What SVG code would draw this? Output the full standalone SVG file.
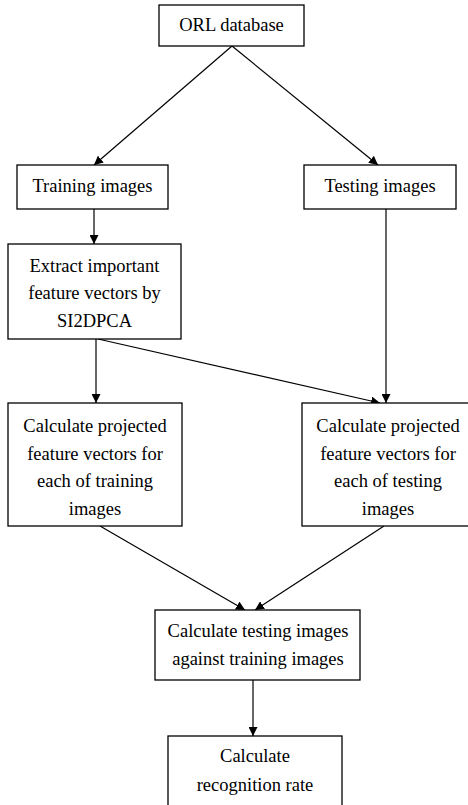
<svg xmlns="http://www.w3.org/2000/svg" width="468" height="805" viewBox="0 0 468 805">
  <style>
    .box { fill: #ffffff; stroke: #000000; stroke-width: 1.3; }
    .lbl { font-family: "Liberation Serif", "Times New Roman", serif; font-size: 18.5px; fill: #000000; text-anchor: middle; }
    .edge { stroke: #000000; stroke-width: 1.2; fill: none; marker-end: url(#arrow); }
  </style>
  <defs>
    <marker id="arrow" viewBox="0 0 10 10" refX="10" refY="5" markerWidth="9" markerHeight="9" markerUnits="userSpaceOnUse" orient="auto">
      <path d="M0,0 L10,5 L0,10 z" fill="#000000"/>
    </marker>
  </defs>
  <rect width="468" height="805" fill="#ffffff"/>

  <g id="connectors">
    <line class="edge" x1="232" y1="46" x2="94" y2="165"/>
    <line class="edge" x1="232" y1="46" x2="378" y2="165"/>
    <line class="edge" x1="94" y1="209" x2="94" y2="244"/>
    <line class="edge" x1="96" y1="339" x2="96" y2="403"/>
    <line class="edge" x1="98" y1="339" x2="380" y2="403"/>
    <line class="edge" x1="386" y1="209" x2="386" y2="403"/>
    <line class="edge" x1="100" y1="526" x2="245" y2="610"/>
    <line class="edge" x1="384" y1="526" x2="255" y2="610"/>
    <line class="edge" x1="253" y1="680" x2="253" y2="736"/>
  </g>

  <g id="orl-database">
    <rect class="box" x="159" y="5" width="145" height="41"/>
    <text class="lbl" x="231.5" y="31">ORL database</text>
  </g>

  <g id="training-images">
    <rect class="box" x="17" y="165" width="151" height="44"/>
    <text class="lbl" x="92.5" y="192">Training images</text>
  </g>

  <g id="testing-images">
    <rect class="box" x="304" y="165" width="152" height="44"/>
    <text class="lbl" x="380" y="192">Testing images</text>
  </g>

  <g id="extract-features">
    <rect class="box" x="8" y="244" width="173" height="95"/>
    <text class="lbl" x="94.5" y="272">Extract important</text>
    <text class="lbl" x="94.5" y="299">feature vectors by</text>
    <text class="lbl" x="94.5" y="327">SI2DPCA</text>
  </g>

  <g id="project-training">
    <rect class="box" x="8" y="403" width="174" height="123"/>
    <text class="lbl" x="95" y="432">Calculate projected</text>
    <text class="lbl" x="95" y="459.5">feature vectors for</text>
    <text class="lbl" x="95" y="487">each of training</text>
    <text class="lbl" x="95" y="515">images</text>
  </g>

  <g id="project-testing">
    <rect class="box" x="302" y="403" width="172" height="123"/>
    <text class="lbl" x="388" y="432">Calculate projected</text>
    <text class="lbl" x="388" y="459.5">feature vectors for</text>
    <text class="lbl" x="388" y="487">each of testing</text>
    <text class="lbl" x="388" y="515">images</text>
  </g>

  <g id="compare-images">
    <rect class="box" x="155" y="610" width="205" height="70"/>
    <text class="lbl" x="258" y="637">Calculate testing images</text>
    <text class="lbl" x="258" y="665">against training images</text>
  </g>

  <g id="recognition-rate">
    <rect class="box" x="168" y="736" width="174" height="80"/>
    <text class="lbl" x="255" y="762">Calculate</text>
    <text class="lbl" x="255" y="791">recognition rate</text>
  </g>
</svg>
